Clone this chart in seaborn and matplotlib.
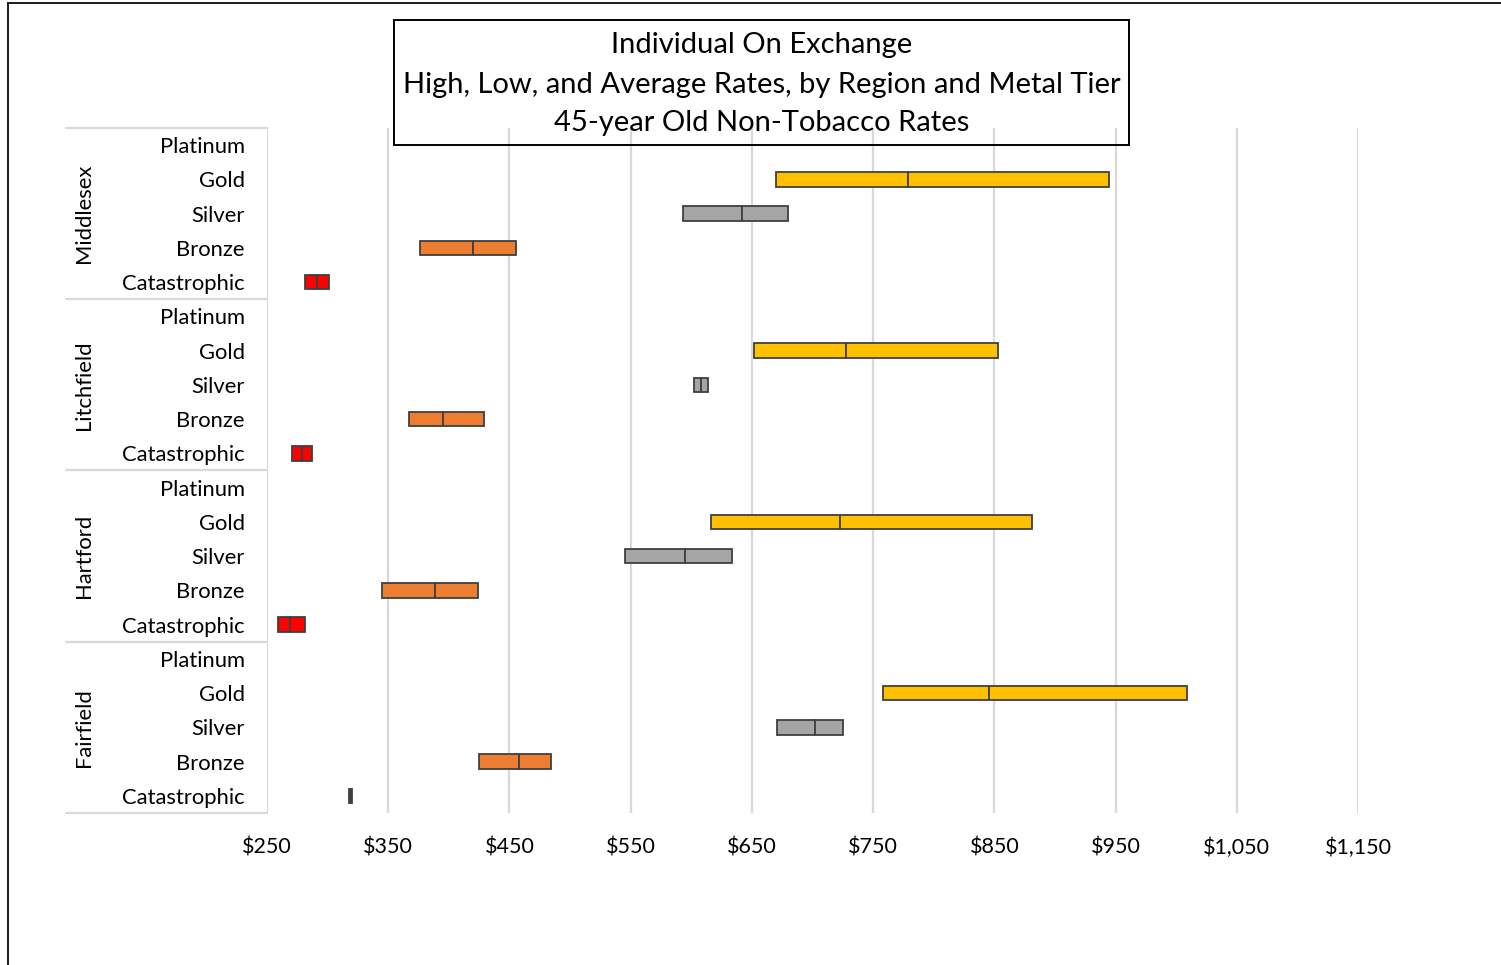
import numpy as np
import matplotlib
matplotlib.use("Agg")
import matplotlib.pyplot as plt
import matplotlib.patches as mpatches
import matplotlib.ticker as mticker
import seaborn as sns

# ---- data -------------------------------------------------------------
regions = ["Middlesex", "Litchfield", "Hartford", "Fairfield"]
tiers = ["Platinum", "Gold", "Silver", "Bronze", "Catastrophic"]

# low / average / high monthly premium per tier (Platinum not offered)
middlesex_low = [None, 670, 593, 376, 281]
middlesex_avg = [None, 779, 642, 420, 291]
middlesex_high = [None, 945, 680, 455, 301]

litchfield_low = [None, 652, 602, 367, 271]
litchfield_avg = [None, 728, 608, 395, 279]
litchfield_high = [None, 853, 614, 429, 287]

hartford_low = [None, 616, 545, 345, 259]
hartford_avg = [None, 723, 595, 389, 269]
hartford_high = [None, 881, 634, 424, 281]

fairfield_low = [None, 758, 671, 425, 318]
fairfield_avg = [None, 846, 702, 458, 319]
fairfield_high = [None, 1009, 725, 484, 320]

tick_values = [250, 350, 450, 550, 650, 750, 850, 950, 1050, 1150]

tier_colors = {
    "Platinum": "#7F7F7F",
    "Gold": "#FFC000",
    "Silver": "#A5A5A5",
    "Bronze": "#ED7D31",
    "Catastrophic": "#FF0000",
}

region_data = {
    "Middlesex": (middlesex_low, middlesex_avg, middlesex_high),
    "Litchfield": (litchfield_low, litchfield_avg, litchfield_high),
    "Hartford": (hartford_low, hartford_avg, hartford_high),
    "Fairfield": (fairfield_low, fairfield_avg, fairfield_high),
}

# ---- style ------------------------------------------------------------
sns.set_theme(style="white")
plt.rcParams["font.family"] = ["Lato", "DejaVu Sans"]

W, H = 1501, 965
fig = plt.figure(figsize=(W / 100, H / 100), dpi=100)
fig.patch.set_facecolor("white")

left_px, right_px, top_px, bottom_px = 267, 1358, 128, 813
ax = fig.add_axes([left_px / W, 1 - bottom_px / H,
                   (right_px - left_px) / W, (bottom_px - top_px) / H])
ax.set_facecolor("white")

n_rows = len(regions) * len(tiers)
bar_h = 0.43
edge = "#404040"

row = 0
for reg in regions:
    lows, avgs, highs = region_data[reg]
    for t, lo, av, hi in zip(tiers, lows, avgs, highs):
        if lo is not None:
            c = tier_colors[t]
            # low -> average, then average -> high
            ax.barh(row, av - lo, left=lo, height=bar_h, color=c,
                    edgecolor=edge, linewidth=1.3, zorder=3)
            ax.barh(row, hi - av, left=av, height=bar_h, color=c,
                    edgecolor=edge, linewidth=1.3, zorder=3)
        row += 1

ax.set_xlim(250, 1150)
ax.set_ylim(n_rows - 0.5, -0.5)
ax.set_xticks(tick_values)
ax.xaxis.set_major_formatter(mticker.FuncFormatter(lambda v, p: f"${v:,.0f}"))
ax.tick_params(axis="x", length=0, pad=18, labelsize=15.5, colors="black")
ax.set_yticks([])
ax.grid(axis="x", color="#D9D9D9", linewidth=1.6, zorder=0)
for s in ax.spines.values():
    s.set_visible(False)

# category axis: tier labels, region labels and group separators
axw = right_px - left_px
sep_x0 = (66 - left_px) / axw
tier_x = (245 - left_px) / axw
reg_x = (84 - left_px) / axw
trans = ax.get_yaxis_transform()
row = 0
for gi, reg in enumerate(regions):
    for t in tiers:
        ax.text(tier_x, row + 0.06, t, transform=trans, ha="right", va="center",
                fontsize=15.8, color="black")
        row += 1
    center = gi * len(tiers) + (len(tiers) - 1) / 2
    ax.text(reg_x, center, reg, transform=trans, ha="center", va="center",
            rotation=90, fontsize=15.8, color="black")
for b in range(len(regions) + 1):
    yb = b * len(tiers) - 0.5
    ax.plot([sep_x0, 0], [yb, yb], transform=trans, color="#D9D9D9",
            linewidth=1.6, clip_on=False, zorder=1)

# chart title box
box = mpatches.Rectangle((394 / W, 1 - 145 / H), (1129 - 394) / W, (145 - 20) / H,
                         transform=fig.transFigure, fill=False,
                         edgecolor="black", linewidth=1.4)
fig.patches.append(box)
title_lines = ["Individual On Exchange",
               "High, Low, and Average Rates, by Region and Metal Tier",
               "45-year Old Non-Tobacco Rates"]
for ty, line in zip([45.5, 84.5, 123.5], title_lines):
    fig.text(761.5 / W, 1 - ty / H, line, ha="center", va="center",
             fontsize=21, color="black")

# outer chart frame
frame = mpatches.Rectangle((8 / W, -0.05), 1.1, 1 - 3 / H + 0.05,
                           transform=fig.transFigure, fill=False,
                           edgecolor="#1a1a1a", linewidth=1.4, clip_on=False)
fig.patches.append(frame)

fig.savefig("out.png", dpi=100, facecolor="white")
